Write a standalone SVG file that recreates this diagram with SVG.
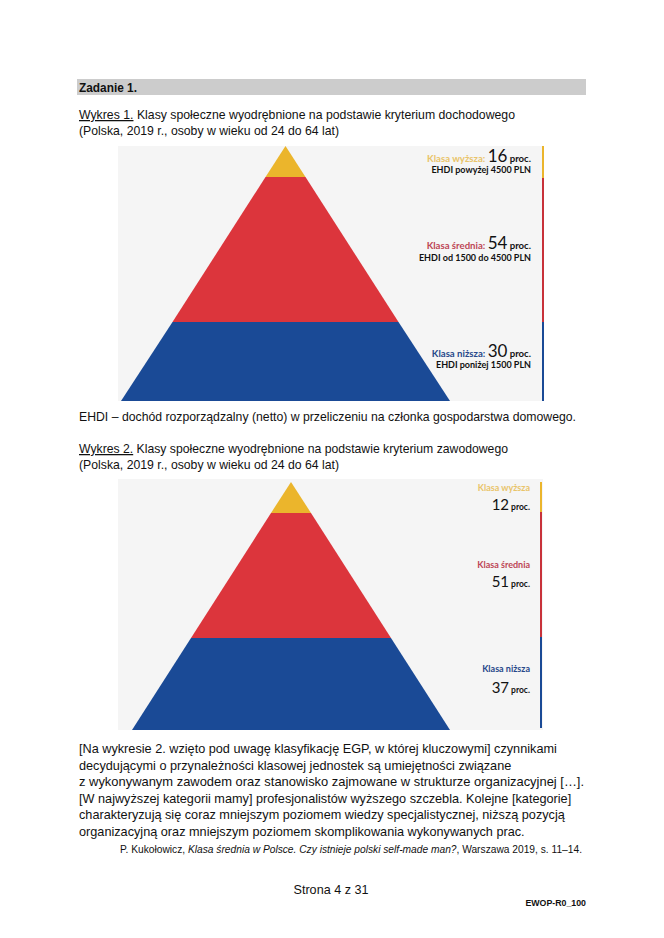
<svg xmlns="http://www.w3.org/2000/svg" width="664" height="938" viewBox="0 0 664 938">
<style>
.t{font-family:"Liberation Sans",Arial,sans-serif;fill:#111}
.s13{font-size:12.6px}
.q{font-size:12.7px}
.s10{font-size:10px}
.u{text-decoration:underline}
.lb{font-family:Lato,"Liberation Sans",sans-serif;font-weight:bold}
.big{font-family:Lato,"Liberation Sans",sans-serif;font-weight:normal;fill:#111}
.y{fill:#e9c46a}.r{fill:#bd4655}.b{fill:#27488a}
.k{fill:#111}
</style>
<rect width="664" height="938" fill="#fff"/>
<g id="header">
<rect x="77" y="79" width="509" height="16" fill="#cccccc"/>
<text x="79" y="91.5" class="t s13" font-weight="bold" textLength="58" lengthAdjust="spacingAndGlyphs">Zadanie 1.</text>
</g>
<g id="title1">
<text x="79" y="119" class="t s13" textLength="436" lengthAdjust="spacingAndGlyphs"><tspan class="u">Wykres 1.</tspan> Klasy społeczne wyodrębnione na podstawie kryterium dochodowego</text>
<text x="79" y="135" class="t s13" textLength="260" lengthAdjust="spacingAndGlyphs">(Polska, 2019 r., osoby w wieku od 24 do 64 lat)</text>
</g>
<g id="chart1">
<rect x="118" y="146" width="425" height="255" fill="#f5f5f5"/>
<polygon points="285.5,146 305.5,177 265.5,177" fill="#ebb52c"/>
<polygon points="265.5,177 305.5,177 398.5,322 172.5,322" fill="#dc353c"/>
<polygon points="172.5,322 398.5,322 450,401 121,401" fill="#1a4a96"/>
<rect x="542" y="146" width="2" height="32" fill="#ebb52c"/>
<rect x="542" y="178" width="2" height="144" fill="#c8323a"/>
<rect x="542" y="322" width="2" height="79" fill="#1a4a96"/>
<g id="c1-high">
<text x="531" y="162" text-anchor="end"><tspan class="lb y" font-size="9.6">Klasa wyższa: </tspan><tspan class="big" font-size="17">16</tspan><tspan class="lb k" font-size="9.6"> proc.</tspan></text>
<text x="531" y="173" text-anchor="end" class="lb k" font-size="9">EHDI powyżej 4500 PLN</text>
</g>
<g id="c1-mid">
<text x="531" y="249" text-anchor="end"><tspan class="lb r" font-size="9.6">Klasa średnia: </tspan><tspan class="big" font-size="17">54</tspan><tspan class="lb k" font-size="9.6"> proc.</tspan></text>
<text x="531" y="261" text-anchor="end" class="lb k" font-size="9">EHDI od 1500 do 4500 PLN</text>
</g>
<g id="c1-low">
<text x="531" y="357" text-anchor="end"><tspan class="lb b" font-size="9.6">Klasa niższa: </tspan><tspan class="big" font-size="17">30</tspan><tspan class="lb k" font-size="9.6"> proc.</tspan></text>
<text x="531" y="368" text-anchor="end" class="lb k" font-size="9">EHDI poniżej 1500 PLN</text>
</g>
</g>
<g id="note">
<text x="79" y="421" class="t s13" textLength="497" lengthAdjust="spacingAndGlyphs">EHDI – dochód rozporządzalny (netto) w przeliczeniu na członka gospodarstwa domowego.</text>
</g>
<g id="title2">
<text x="79" y="453" class="t s13" textLength="429" lengthAdjust="spacingAndGlyphs"><tspan class="u">Wykres 2.</tspan> Klasy społeczne wyodrębnione na podstawie kryterium zawodowego</text>
<text x="79" y="469" class="t s13" textLength="260" lengthAdjust="spacingAndGlyphs">(Polska, 2019 r., osoby w wieku od 24 do 64 lat)</text>
</g>
<g id="chart2">
<rect x="118" y="479" width="425" height="251" fill="#f5f5f5"/>
<polygon points="291,482 311,513 271,513" fill="#ebb52c"/>
<polygon points="271,513 311,513 391,638 191,638" fill="#dc353c"/>
<polygon points="191,638 391,638 450,730 132,730" fill="#1a4a96"/>
<rect x="540" y="482" width="2" height="30" fill="#ebb52c"/>
<rect x="540" y="512" width="2" height="125" fill="#c8323a"/>
<rect x="540" y="637" width="2" height="91" fill="#1a4a96"/>
<g id="c2-high">
<text x="530" y="491" text-anchor="end" class="lb y" font-size="9">Klasa wyższa</text>
<text x="530" y="510" text-anchor="end"><tspan class="big" font-size="15" font-weight="bold">12</tspan><tspan class="lb k" font-size="8.5"> proc.</tspan></text>
</g>
<g id="c2-mid">
<text x="530" y="568" text-anchor="end" class="lb r" font-size="9">Klasa średnia</text>
<text x="530" y="587" text-anchor="end"><tspan class="big" font-size="15">51</tspan><tspan class="lb k" font-size="8.5"> proc.</tspan></text>
</g>
<g id="c2-low">
<text x="530" y="672" text-anchor="end" class="lb b" font-size="9">Klasa niższa</text>
<text x="530" y="693" text-anchor="end"><tspan class="big" font-size="15">37</tspan><tspan class="lb k" font-size="8.5"> proc.</tspan></text>
</g>
</g>
<g id="quote">
<text x="79" y="753" class="t q">[Na wykresie 2. wzięto pod uwagę klasyfikację EGP, w której kluczowymi] czynnikami</text>
<text x="79" y="769.5" class="t q">decydującymi o przynależności klasowej jednostek są umiejętności związane</text>
<text x="79" y="786" class="t q" textLength="505" lengthAdjust="spacingAndGlyphs">z wykonywanym zawodem oraz stanowisko zajmowane w strukturze organizacyjnej […].</text>
<text x="79" y="802.5" class="t q">[W najwyższej kategorii mamy] profesjonalistów wyższego szczebla. Kolejne [kategorie]</text>
<text x="79" y="819" class="t q">charakteryzują się coraz mniejszym poziomem wiedzy specjalistycznej, niższą pozycją</text>
<text x="79" y="835.5" class="t q">organizacyjną oraz mniejszym poziomem skomplikowania wykonywanych prac.</text>
<text x="120" y="853" class="t s10" textLength="462" lengthAdjust="spacingAndGlyphs">P. Kukołowicz, <tspan font-style="italic">Klasa średnia w Polsce. Czy istnieje polski self-made man?</tspan>, Warszawa 2019, s. 11–14.</text>
</g>
<g id="footer">
<text x="331" y="894" text-anchor="middle" class="t s13">Strona 4 z 31</text>
<text x="586" y="906" text-anchor="end" class="t" font-size="8.8" font-weight="bold">EWOP-R0_100</text>
</g>
</svg>
